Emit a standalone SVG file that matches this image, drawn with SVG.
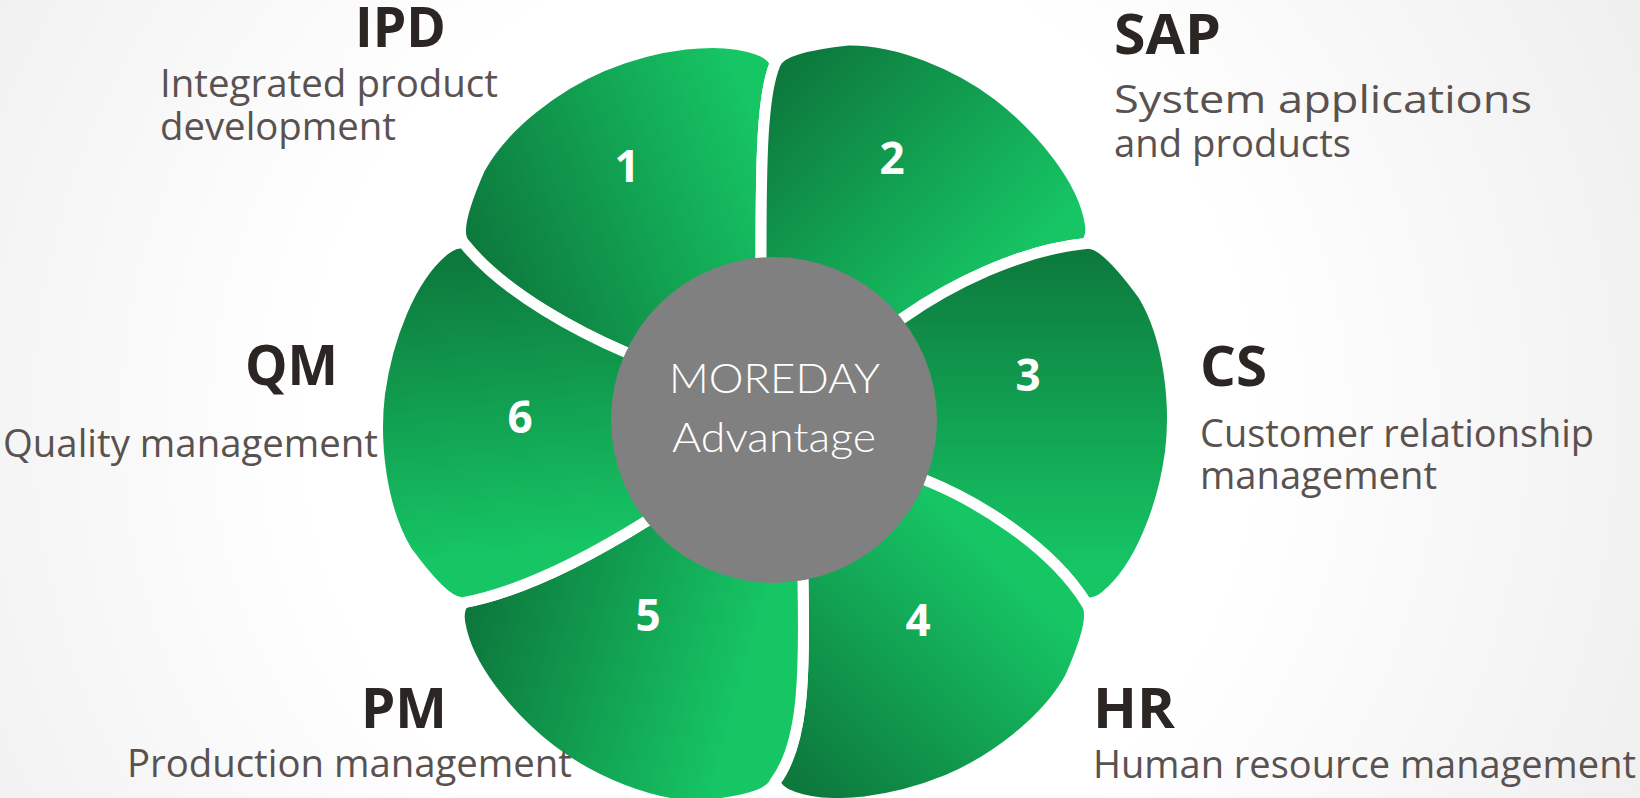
<svg xmlns="http://www.w3.org/2000/svg" width="1640" height="798" viewBox="0 0 1640 798">
<defs>
<radialGradient id="bg" cx="780" cy="420" r="950" gradientUnits="userSpaceOnUse">
<stop offset="0" stop-color="#ffffff"/><stop offset="0.5" stop-color="#ffffff"/><stop offset="1" stop-color="#efefef"/>
</radialGradient>
<linearGradient id="g1" gradientUnits="userSpaceOnUse" x1="470" y1="240" x2="760" y2="120"><stop offset="0" stop-color="#0d793d"/><stop offset="1" stop-color="#16c665"/></linearGradient>
<linearGradient id="g2" gradientUnits="userSpaceOnUse" x1="790" y1="70" x2="1010" y2="280"><stop offset="0" stop-color="#0d793d"/><stop offset="1" stop-color="#16c665"/></linearGradient>
<linearGradient id="g3" gradientUnits="userSpaceOnUse" x1="1100" y1="250" x2="1100" y2="570"><stop offset="0" stop-color="#0d793d"/><stop offset="1" stop-color="#16c665"/></linearGradient>
<linearGradient id="g4" gradientUnits="userSpaceOnUse" x1="795" y1="775" x2="1000" y2="560"><stop offset="0" stop-color="#0d793d"/><stop offset="1" stop-color="#16c665"/></linearGradient>
<linearGradient id="g5" gradientUnits="userSpaceOnUse" x1="475" y1="615" x2="745" y2="690"><stop offset="0" stop-color="#0d793d"/><stop offset="1" stop-color="#16c665"/></linearGradient>
<linearGradient id="g6" gradientUnits="userSpaceOnUse" x1="440" y1="260" x2="470" y2="560"><stop offset="0" stop-color="#0d793d"/><stop offset="1" stop-color="#16c665"/></linearGradient>
</defs>
<style>
.petal{stroke:#ffffff;stroke-width:11;stroke-linejoin:round}
.num{font-family:"Open Sans","Noto Sans",sans-serif;font-weight:700;font-size:44px;fill:#ffffff;text-anchor:middle}
.title{font-family:"Open Sans","Noto Sans",sans-serif;font-weight:700;font-size:55px;fill:#2b2523}
.desc{font-family:"Open Sans","Noto Sans",sans-serif;font-weight:400;font-size:38px;fill:#5a5250}
.center{font-family:Lato,"Open Sans",sans-serif;font-weight:300;font-size:42px;fill:#ffffff;text-anchor:middle}
</style>
<rect width="1640" height="798" fill="url(#bg)"/>

<g id="petal-1">
<path class="petal" fill="url(#g1)" d="M 775 423 L 653 364 L 625 352 C 585 335 505 295 464.1 243.5 C 455.3 232.7 464.8 202.3 479.8 168.3 C 504 124.5 556.5 85.5 602.5 65.9 C 655.3 44.4 718.6 34.8 758.4 49.7 C 768.1 53 774 58.7 775 64 C 762 95 761 160 761 257 L 762 300 Z"/>
<text class="num" x="627" y="182">1</text>
</g>
<g id="petal-2">
<path class="petal" fill="url(#g2)" d="M 775 423 L 762 300 L 761 257 C 761 160 762 95 775 64 C 780 51 811 44 848 40 C 898 39 958 65 998 95 C 1043 130 1083 180 1090 222 C 1092 232 1090 240 1085.9 243.5 C 1020 250 950 285 903 318 L 870 341 Z"/>
<text class="num" x="892" y="174">2</text>
</g>
<g id="petal-3">
<path class="petal" fill="url(#g3)" d="M 775 423 L 870 341 L 903 318 C 950 285 1020 250 1085.9 243.5 C 1099.7 241.3 1121.2 264.7 1143.2 294.7 C 1169 337.5 1176.5 402.5 1170.5 452.1 C 1162.7 508.6 1139.4 568.2 1106.6 595.3 C 1098.9 602 1091 604.3 1085.9 602.5 C 1050 545 975 500 925 480 L 890 466 Z"/>
<text class="num" x="1028" y="391">3</text>
</g>
<g id="petal-4">
<path class="petal" fill="url(#g4)" d="M 775 423 L 890 466 L 925 480 C 975 500 1050 545 1085.9 602.5 C 1094.7 613.3 1085.2 643.7 1070.2 677.7 C 1046 721.5 993.5 760.5 947.5 780.1 C 894.7 801.6 831.4 811.2 791.6 796.3 C 781.9 793 776 787.3 775 782 C 803 745 805 680 803 583 L 802 545 Z"/>
<text class="num" x="918" y="636">4</text>
</g>
<g id="petal-5">
<path class="petal" fill="url(#g5)" d="M 775 423 L 802 545 L 803 583 C 805 680 803 745 775 782 C 770 795 739 802 702 806 C 652 807 592 781 552 751 C 507 716 467 666 460 624 C 458 614 460 606 464.1 602.5 C 530 590 600 550 645 522 L 676.5 502.4 Z"/>
<text class="num" x="648" y="631">5</text>
</g>
<g id="petal-6">
<path class="petal" fill="url(#g6)" d="M 775 423 L 676.5 502.4 L 645 522 C 600 550 530 590 464.1 602.5 C 450.3 604.7 428.8 581.3 406.8 551.3 C 381 508.5 373.5 443.5 379.5 393.9 C 387.3 337.4 410.6 277.8 443.4 250.7 C 451.1 244 459 241.7 464.1 243.5 C 505 295 585 335 625 352 L 653 364 Z"/>
<text class="num" x="520" y="433">6</text>
</g>

<g id="center">
<circle cx="774" cy="420" r="163" fill="#808080"/>
<text class="center" x="774.5" y="393" textLength="211" lengthAdjust="spacingAndGlyphs">MOREDAY</text>
<text class="center" x="774" y="452" textLength="204" lengthAdjust="spacingAndGlyphs">Advantage</text>
</g>

<g id="label-ipd">
<text class="title" x="355" y="47" textLength="91" lengthAdjust="spacingAndGlyphs">IPD</text>
<text class="desc" x="160" y="97" textLength="338" lengthAdjust="spacingAndGlyphs">Integrated product</text>
<text class="desc" x="160" y="140" textLength="236" lengthAdjust="spacingAndGlyphs">development</text>
</g>
<g id="label-sap">
<text class="title" x="1114" y="54" textLength="107" lengthAdjust="spacingAndGlyphs">SAP</text>
<text class="desc" x="1114" y="113" textLength="418" lengthAdjust="spacingAndGlyphs">System applications</text>
<text class="desc" x="1114" y="157" textLength="237" lengthAdjust="spacingAndGlyphs">and products</text>
</g>
<g id="label-cs">
<text class="title" x="1200" y="386" textLength="67" lengthAdjust="spacingAndGlyphs">CS</text>
<text class="desc" x="1200" y="447" textLength="394" lengthAdjust="spacingAndGlyphs">Customer relationship</text>
<text class="desc" x="1200" y="489" textLength="237" lengthAdjust="spacingAndGlyphs">management</text>
</g>
<g id="label-qm">
<text class="title" x="245" y="385" textLength="93" lengthAdjust="spacingAndGlyphs">QM</text>
<text class="desc" x="3" y="457" textLength="375" lengthAdjust="spacingAndGlyphs">Quality management</text>
</g>
<g id="label-pm">
<text class="title" x="361" y="728" textLength="86" lengthAdjust="spacingAndGlyphs">PM</text>
<text class="desc" x="127" y="777" textLength="445" lengthAdjust="spacingAndGlyphs">Production management</text>
</g>
<g id="label-hr">
<text class="title" x="1093" y="728" textLength="82" lengthAdjust="spacingAndGlyphs">HR</text>
<text class="desc" x="1093" y="778" textLength="543" lengthAdjust="spacingAndGlyphs">Human resource management</text>
</g>
</svg>
